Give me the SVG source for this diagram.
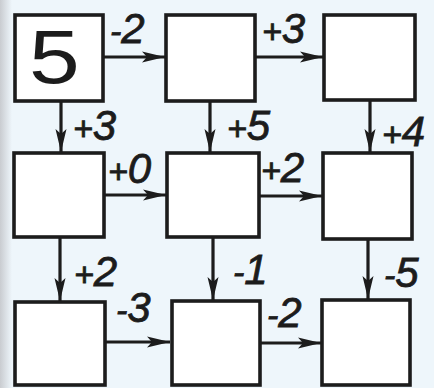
<svg xmlns="http://www.w3.org/2000/svg" width="434" height="388" viewBox="0 0 434 388">
<style>
.box{fill:#ffffff;stroke:#1c1c1c;stroke-width:3.6}
.con line{stroke:#1c1c1c;stroke-width:3.2}
.lbl{font-family:"Liberation Sans",Arial,sans-serif;font-style:italic;font-size:42px;fill:#1c1c1c;stroke:#1c1c1c;stroke-width:0.8}
.sg{font-size:34px}
.big{font-family:"Liberation Sans",Arial,sans-serif;font-size:76px;fill:#1c1c1c}
</style>
<defs>
<linearGradient id="edge" x1="0" x2="1" y1="0" y2="0">
<stop offset="0" stop-color="#c9ccd0"/>
<stop offset="1" stop-color="#eef6fb"/>
</linearGradient>
<marker id="ah" viewBox="0 -7 24 14" markerWidth="24" markerHeight="14" refX="23" refY="0" orient="auto" markerUnits="userSpaceOnUse">
<path d="M0,-5.5 L23,0 L0,5.5 L5,0 Z" fill="#1c1c1c"/>
</marker>
</defs>
<rect width="434" height="388" fill="#eef6fb"/>
<rect x="0" y="0" width="12" height="388" fill="url(#edge)"/>
<g class="con">
<line x1="103" y1="57" x2="165" y2="57" marker-end="url(#ah)"/>
<line x1="255" y1="57" x2="323" y2="57" marker-end="url(#ah)"/>
<line x1="104" y1="195" x2="166" y2="195" marker-end="url(#ah)"/>
<line x1="259" y1="196" x2="322" y2="196" marker-end="url(#ah)"/>
<line x1="105" y1="342" x2="170" y2="342" marker-end="url(#ah)"/>
<line x1="260" y1="343" x2="321" y2="343" marker-end="url(#ah)"/>
<line x1="61" y1="101" x2="61" y2="152" marker-end="url(#ah)"/>
<line x1="210" y1="101" x2="210" y2="152" marker-end="url(#ah)"/>
<line x1="370" y1="100" x2="370" y2="152" marker-end="url(#ah)"/>
<line x1="60" y1="237" x2="60" y2="301" marker-end="url(#ah)"/>
<line x1="213" y1="237" x2="213" y2="300" marker-end="url(#ah)"/>
<line x1="368" y1="239" x2="368" y2="299" marker-end="url(#ah)"/>
</g>
<g id="n1"><rect class="box" x="15" y="15" width="88" height="86"/><text class="big" transform="translate(29,83) scale(1.2,1)">5</text></g>
<g id="n2"><rect class="box" x="166" y="15" width="89" height="86"/></g>
<g id="n3"><rect class="box" x="324" y="15" width="91" height="85"/></g>
<g id="n4"><rect class="box" x="14" y="153" width="90" height="84"/></g>
<g id="n5"><rect class="box" x="167" y="153" width="92" height="84"/></g>
<g id="n6"><rect class="box" x="323" y="153" width="89" height="86"/></g>
<g id="n7"><rect class="box" x="15" y="302" width="90" height="83"/></g>
<g id="n8"><rect class="box" x="172" y="301" width="88" height="84"/></g>
<g id="n9"><rect class="box" x="322" y="300" width="88" height="85"/></g>
<g id="labels">
<text class="lbl" x="110" y="43"><tspan class="sg">-</tspan>2</text>
<text class="lbl" x="262" y="43"><tspan class="sg">+</tspan>3</text>
<text class="lbl" x="73" y="140"><tspan class="sg">+</tspan>3</text>
<text class="lbl" x="227" y="140"><tspan class="sg">+</tspan>5</text>
<text class="lbl" x="382" y="146"><tspan class="sg">+</tspan>4</text>
<text class="lbl" x="108" y="183"><tspan class="sg">+</tspan>0</text>
<text class="lbl" x="261" y="182"><tspan class="sg">+</tspan>2</text>
<text class="lbl" x="74" y="286"><tspan class="sg">+</tspan>2</text>
<text class="lbl" x="233" y="284"><tspan class="sg">-</tspan>1</text>
<text class="lbl" x="384" y="287"><tspan class="sg">-</tspan>5</text>
<text class="lbl" x="116" y="322"><tspan class="sg">-</tspan>3</text>
<text class="lbl" x="267" y="327"><tspan class="sg">-</tspan>2</text>
</g>
</svg>
